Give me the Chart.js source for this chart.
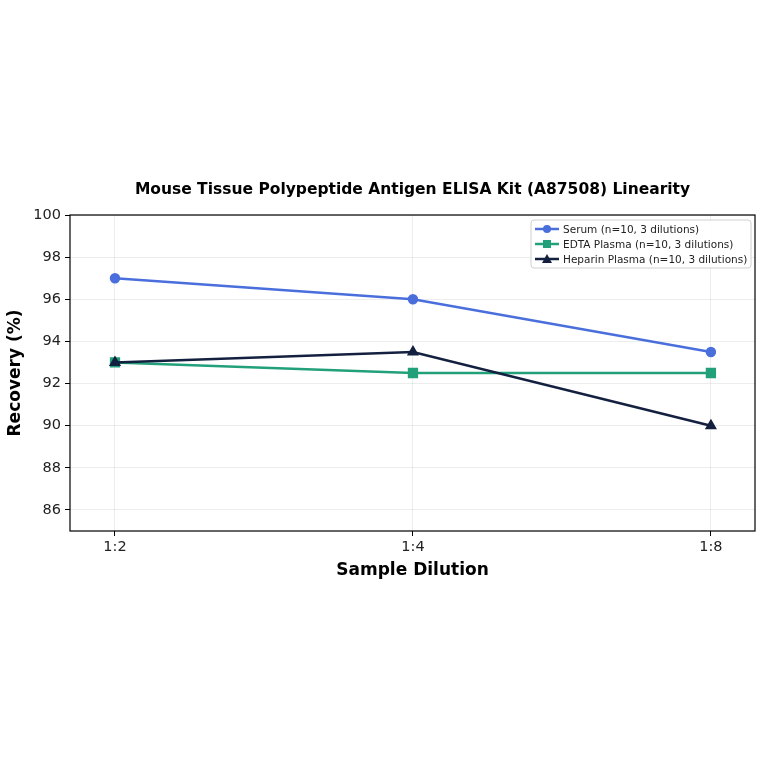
<!DOCTYPE html>
<html>
<head>
<meta charset="utf-8">
<script src="https://cdn.jsdelivr.net/npm/chart.js@4"></script>
<style>
  html, body { margin: 0; padding: 0; background: #fff; }
  #wrap { width: 764px; height: 764px; }
</style>
</head>
<body>
<div id="wrap"><canvas id="linChart" width="764" height="764"></canvas></div>
<script>
// data
const dilutions = ['1:2', '1:4', '1:8'];
const serum = [97, 96, 93.5];
const edta = [93, 92.5, 92.5];
const heparin = [93, 93.5, 90];
const yTicks = [86, 88, 90, 92, 94, 96, 98, 100];

const FONT = '"DejaVu Sans", sans-serif';

function pts(arr) {
  return arr.map((v, i) => ({ x: i, y: v }));
}

// title, axis titles, frame and legend drawn by hand to sit where matplotlib put them
const extras = {
  id: 'extras',
  afterDraw(chart) {
    const c = chart.ctx, a = chart.chartArea;
    const midX = (a.left + a.right) / 2;
    c.save();
    c.strokeStyle = '#000';
    c.lineWidth = 1.2;
    c.strokeRect(a.left, a.top, a.right - a.left, a.bottom - a.top);

    c.fillStyle = '#000';
    c.textAlign = 'center';
    c.textBaseline = 'middle';
    c.font = 'bold 15.5px ' + FONT;
    c.fillText('Mouse Tissue Polypeptide Antigen ELISA Kit (A87508) Linearity', midX, 190);

    c.font = 'bold 17px ' + FONT;
    c.fillText('Sample Dilution', midX, 571);
    c.save();
    c.translate(16, (a.top + a.bottom) / 2);
    c.rotate(-Math.PI / 2);
    c.fillText('Recovery (%)', 0, 0);
    c.restore();

    // legend
    const bx = 531, by = 220, bw = 220, bh = 48;
    c.fillStyle = 'rgba(255,255,255,0.85)';
    c.strokeStyle = '#d0d0d0';
    c.lineWidth = 1;
    c.beginPath();
    c.roundRect(bx, by, bw, bh, 3);
    c.fill();
    c.stroke();
    c.font = '10.5px ' + FONT;
    c.textAlign = 'left';
    chart.data.datasets.forEach((ds, i) => {
      const y = by + 9 + i * 15;
      c.strokeStyle = ds.borderColor;
      c.lineWidth = 2.5;
      c.beginPath();
      c.moveTo(bx + 4, y);
      c.lineTo(bx + 28, y);
      c.stroke();
      c.fillStyle = ds.borderColor;
      c.beginPath();
      if (ds.pointStyle === 'circle') {
        c.arc(bx + 16, y, 4, 0, Math.PI * 2);
      } else if (ds.pointStyle === 'rect') {
        c.rect(bx + 12, y - 4, 8, 8);
      } else {
        c.moveTo(bx + 16, y - 5);
        c.lineTo(bx + 21, y + 4);
        c.lineTo(bx + 11, y + 4);
        c.closePath();
      }
      c.fill();
      c.fillStyle = '#222';
      c.fillText(ds.label, bx + 32, y + 1);
    });
    c.restore();
  }
};

const ctx = document.getElementById('linChart').getContext('2d');
const linChart = new Chart(ctx, {
  type: 'line',
  data: {
    datasets: [
      {
        label: 'Serum (n=10, 3 dilutions)',
        data: pts(serum),
        borderColor: '#4a6fdc',
        backgroundColor: '#4a6fdc',
        pointStyle: 'circle',
        pointRadius: 4,
        borderWidth: 2.5,
        order: 3
      },
      {
        label: 'EDTA Plasma (n=10, 3 dilutions)',
        data: pts(edta),
        borderColor: '#22a07a',
        backgroundColor: '#22a07a',
        pointStyle: 'rect',
        pointRadius: 5.5,
        borderWidth: 2.5,
        order: 2
      },
      {
        label: 'Heparin Plasma (n=10, 3 dilutions)',
        data: pts(heparin),
        borderColor: '#14203f',
        backgroundColor: '#14203f',
        pointStyle: 'triangle',
        pointRadius: 4.5,
        borderWidth: 2.5,
        order: 1
      }
    ]
  },
  options: {
    responsive: false,
    animation: false,
    devicePixelRatio: 1,
    layout: { padding: { top: 215, right: 9, bottom: 0, left: 0 } },
    plugins: {
      legend: { display: false },
      title: { display: false },
      tooltip: { enabled: false }
    },
    scales: {
      x: {
        type: 'linear',
        min: -0.151,
        max: 2.148,
        afterBuildTicks(scale) {
          scale.ticks = dilutions.map((d, i) => ({ value: i }));
        },
        afterFit(scale) { scale.height = 233; },
        ticks: {
          callback: (v) => dilutions[v],
          color: '#222',
          font: { family: FONT, size: 14.5 },
          padding: 3,
          maxRotation: 0
        },
        grid: { color: 'rgba(0,0,0,0.07)', tickColor: '#000', tickLength: 5 },
        border: { display: false }
      },
      y: {
        min: 85,
        max: 100,
        afterBuildTicks(scale) {
          scale.ticks = yTicks.map(v => ({ value: v }));
        },
        afterFit(scale) { scale.width = 70; },
        ticks: {
          color: '#222',
          font: { family: FONT, size: 14.5 },
          padding: 4
        },
        grid: { color: 'rgba(0,0,0,0.07)', tickColor: '#000', tickLength: 5 },
        border: { display: false }
      }
    }
  },
  plugins: [extras]
});
</script>
</body>
</html>
